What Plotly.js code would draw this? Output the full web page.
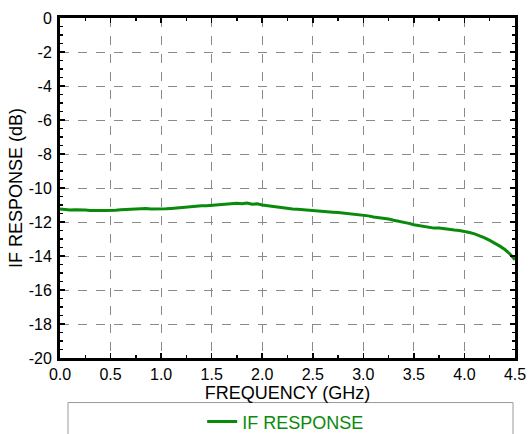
<!DOCTYPE html>
<html>
<head>
<meta charset="utf-8">
<script src="https://cdn.plot.ly/plotly-3.0.1.min.js"></script>
<style>html,body{margin:0;padding:0;background:#fff;}#chart{width:531px;height:434px;}</style>
</head>
<body>
<div id="chart"></div>
<script>
const freqGHz = [0.00,0.05,0.10,0.15,0.20,0.25,0.30,0.35,0.40,0.45,0.50,0.55,0.60,0.65,0.70,0.75,0.80,0.85,0.90,0.95,
  1.00,1.05,1.10,1.15,1.20,1.25,1.30,1.35,1.40,1.45,1.50,1.55,1.60,1.65,1.70,1.75,1.80,1.85,1.90,1.95,
  2.00,2.05,2.10,2.15,2.20,2.25,2.30,2.35,2.40,2.45,2.50,2.55,2.60,2.65,2.70,2.75,2.80,2.85,2.90,2.95,
  3.00,3.05,3.10,3.15,3.20,3.25,3.30,3.35,3.40,3.45,3.50,3.55,3.60,3.65,3.70,3.75,3.80,3.85,3.90,3.95,
  4.00,4.05,4.10,4.15,4.20,4.25,4.30,4.35,4.40,4.45,4.50];
const ifResponse = [-11.24,-11.27,-11.29,-11.28,-11.31,-11.30,-11.32,-11.30,-11.32,-11.33,-11.34,-11.31,-11.28,-11.26,-11.22,-11.20,-11.22,-11.20,-11.23,-11.24,
  -11.24,-11.22,-11.20,-11.17,-11.14,-11.12,-11.10,-11.07,-11.05,-11.04,-11.02,-10.99,-10.97,-10.94,-10.95,-10.90,-10.93,-10.89,-10.95,-10.93,
  -11.00,-11.04,-11.08,-11.13,-11.18,-11.20,-11.23,-11.25,-11.28,-11.30,-11.33,-11.35,-11.38,-11.39,-11.42,-11.44,-11.47,-11.50,-11.53,-11.56,
  -11.60,-11.64,-11.70,-11.73,-11.80,-11.82,-11.90,-11.95,-12.00,-12.08,-12.16,-12.20,-12.28,-12.30,-12.36,-12.35,-12.40,-12.42,-12.47,-12.50,
  -12.55,-12.62,-12.70,-12.80,-12.93,-13.08,-13.24,-13.42,-13.62,-13.88,-14.22];
const yTickVals = [0,-2,-4,-6,-8,-10,-12,-14,-16,-18,-20];
const yTickText = ['0','-2','-4','-6','-8','-10','-12','-14','-16','-18','-20'];
const seriesName = 'IF RESPONSE';
const xTitle = 'FREQUENCY (GHz)';
const yTitle = 'IF RESPONSE (dB)';

const font = 'Liberation Sans, Arial, sans-serif';
const green = '#0a8a0a';

const axisCommon = {
  showline: true, linecolor: '#000', linewidth: 3, mirror: 'ticks',
  ticks: 'inside', ticklen: 5, tickwidth: 1.5, tickcolor: '#000',
  showgrid: true, gridcolor: '#8a8a8a', gridwidth: 1, griddash: 'dash',
  zeroline: false, automargin: false,
  tickfont: {family: font, size: 16, color: '#000'}
};

const data = [{
  x: freqGHz, y: ifResponse, type: 'scatter', mode: 'lines',
  name: seriesName, line: {color: green, width: 3}
}];

const layout = {
  width: 531, height: 434,
  margin: {l: 60, r: 16, t: 18, b: 76},
  paper_bgcolor: '#fff', plot_bgcolor: '#fff',
  font: {family: font, color: '#000'},
  showlegend: true,
  legend: {
    orientation: 'h', xref: 'container', yref: 'container',
    x: 0.538, xanchor: 'center', y: 0.028, yanchor: 'middle',
    font: {family: font, size: 18, color: green}, bgcolor: 'rgba(0,0,0,0)'
  },
  xaxis: Object.assign({}, axisCommon, {
    range: [0, 4.5], dtick: 0.5, tickformat: '.1f',
    minor: {ticks: 'inside', dtick: 0.25, ticklen: 3, tickcolor: '#000', showgrid: false},
    title: {text: xTitle, font: {family: font, size: 18, color: '#000'}, standoff: 6}
  }),
  yaxis: Object.assign({}, axisCommon, {
    range: [-20, 0], tickvals: yTickVals, ticktext: yTickText, ticklabelstandoff: 2,
    minor: {ticks: 'inside', dtick: 0.5, ticklen: 3, tickcolor: '#000', showgrid: false},
    title: {text: yTitle, font: {family: font, size: 18, color: '#000'}, standoff: 2}
  }),
  shapes: [{
    type: 'rect', xref: 'paper', yref: 'paper',
    x0: 0.0176, x1: 0.9956, y0: -0.32, y1: -0.131,
    line: {color: '#9a9a9a', width: 1}, fillcolor: 'rgba(0,0,0,0)', layer: 'below'
  }]
};

Plotly.newPlot('chart', data, layout, {displayModeBar: false, staticPlot: true});
</script>
</body>
</html>
